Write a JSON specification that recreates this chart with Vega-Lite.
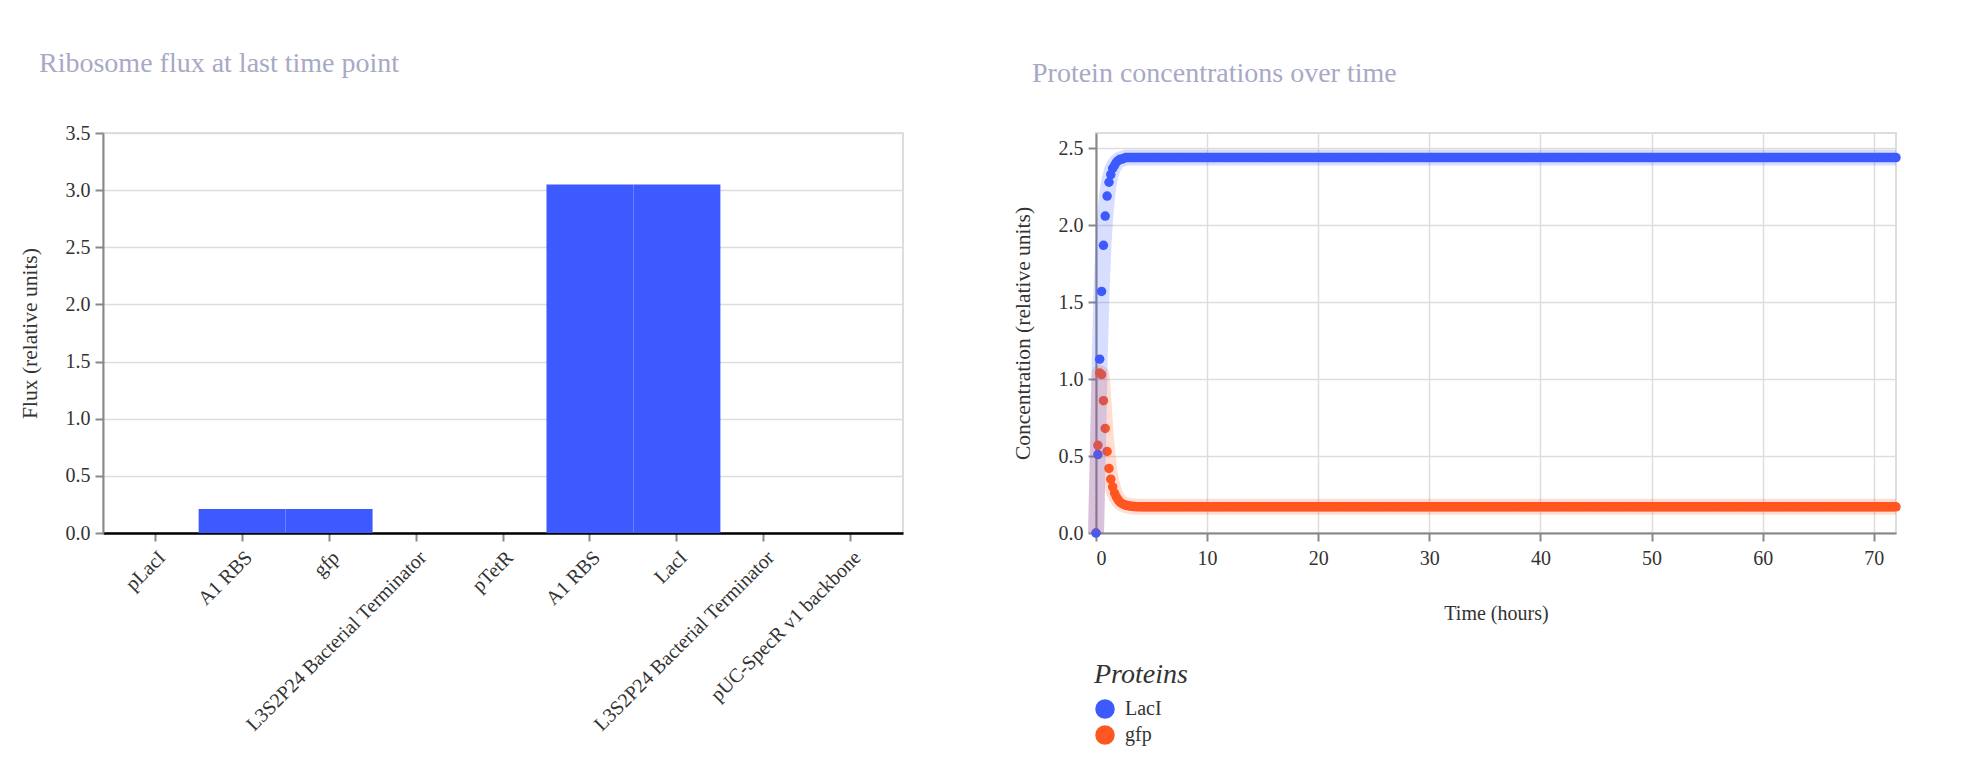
{
"$schema": "https://vega.github.io/schema/vega-lite/v6.json",
"padding": {"left": 18, "top": 49, "right": 5, "bottom": 5},
"spacing": 193,
"bounds": "flush",
"config": {
  "font": "Liberation Serif",
  "view": {"stroke": "#dddddd", "strokeWidth": 2},
  "axis": {"labelFontSize": 20, "titleFontSize": 20, "titleFontWeight": "normal", "labelColor": "#333333", "titleColor": "#333333", "domainColor": "#888888", "domainWidth": 2, "tickColor": "#888888", "tickWidth": 2, "tickSize": 8, "gridColor": "#dddddd", "gridWidth": 1.5, "labelPadding": 5, "titlePadding": 24, "labelLimit": 500},
  "axisY": {"titleFontSize": 21.5},
  "title": {"fontSize": 28, "fontWeight": "normal", "color": "#a7a9c6", "anchor": "start", "frame": "bounds", "dx": 20, "offset": 45}
},
"datasets": {
"gfp": [{"t":0,"c":0},{"t":0.17,"c":0.57},{"t":0.33,"c":1.04},{"t":0.5,"c":1.03},{"t":0.67,"c":0.86},{"t":0.83,"c":0.68},{"t":1,"c":0.53},{"t":1.17,"c":0.42},{"t":1.33,"c":0.35},{"t":1.5,"c":0.3},{"t":1.67,"c":0.26},{"t":1.83,"c":0.235},{"t":2,"c":0.215},{"t":2.17,"c":0.2},{"t":2.33,"c":0.192},{"t":2.5,"c":0.186},{"t":2.67,"c":0.181},{"t":2.83,"c":0.178},{"t":3,"c":0.176},{"t":3.17,"c":0.174},{"t":3.33,"c":0.173},{"t":3.5,"c":0.172},{"t":3.67,"c":0.171},{"t":3.83,"c":0.171},
{"t":4,"c":0.17},{"t":4.17,"c":0.17},{"t":4.33,"c":0.17},{"t":4.5,"c":0.17},{"t":4.67,"c":0.17},{"t":4.83,"c":0.17},
{"t":5,"c":0.17},{"t":5.17,"c":0.17},{"t":5.33,"c":0.17},{"t":5.5,"c":0.17},{"t":5.67,"c":0.17},{"t":5.83,"c":0.17},
{"t":6,"c":0.17},{"t":6.17,"c":0.17},{"t":6.33,"c":0.17},{"t":6.5,"c":0.17},{"t":6.67,"c":0.17},{"t":6.83,"c":0.17},
{"t":7,"c":0.17},{"t":7.17,"c":0.17},{"t":7.33,"c":0.17},{"t":7.5,"c":0.17},{"t":7.67,"c":0.17},{"t":7.83,"c":0.17},
{"t":8,"c":0.17},{"t":8.17,"c":0.17},{"t":8.33,"c":0.17},{"t":8.5,"c":0.17},{"t":8.67,"c":0.17},{"t":8.83,"c":0.17},
{"t":9,"c":0.17},{"t":9.17,"c":0.17},{"t":9.33,"c":0.17},{"t":9.5,"c":0.17},{"t":9.67,"c":0.17},{"t":9.83,"c":0.17},
{"t":10,"c":0.17},{"t":10.17,"c":0.17},{"t":10.33,"c":0.17},{"t":10.5,"c":0.17},{"t":10.67,"c":0.17},{"t":10.83,"c":0.17},
{"t":11,"c":0.17},{"t":11.17,"c":0.17},{"t":11.33,"c":0.17},{"t":11.5,"c":0.17},{"t":11.67,"c":0.17},{"t":11.83,"c":0.17},
{"t":12,"c":0.17},{"t":12.17,"c":0.17},{"t":12.33,"c":0.17},{"t":12.5,"c":0.17},{"t":12.67,"c":0.17},{"t":12.83,"c":0.17},
{"t":13,"c":0.17},{"t":13.17,"c":0.17},{"t":13.33,"c":0.17},{"t":13.5,"c":0.17},{"t":13.67,"c":0.17},{"t":13.83,"c":0.17},
{"t":14,"c":0.17},{"t":14.17,"c":0.17},{"t":14.33,"c":0.17},{"t":14.5,"c":0.17},{"t":14.67,"c":0.17},{"t":14.83,"c":0.17},
{"t":15,"c":0.17},{"t":15.17,"c":0.17},{"t":15.33,"c":0.17},{"t":15.5,"c":0.17},{"t":15.67,"c":0.17},{"t":15.83,"c":0.17},
{"t":16,"c":0.17},{"t":16.17,"c":0.17},{"t":16.33,"c":0.17},{"t":16.5,"c":0.17},{"t":16.67,"c":0.17},{"t":16.83,"c":0.17},
{"t":17,"c":0.17},{"t":17.17,"c":0.17},{"t":17.33,"c":0.17},{"t":17.5,"c":0.17},{"t":17.67,"c":0.17},{"t":17.83,"c":0.17},
{"t":18,"c":0.17},{"t":18.17,"c":0.17},{"t":18.33,"c":0.17},{"t":18.5,"c":0.17},{"t":18.67,"c":0.17},{"t":18.83,"c":0.17},
{"t":19,"c":0.17},{"t":19.17,"c":0.17},{"t":19.33,"c":0.17},{"t":19.5,"c":0.17},{"t":19.67,"c":0.17},{"t":19.83,"c":0.17},
{"t":20,"c":0.17},{"t":20.17,"c":0.17},{"t":20.33,"c":0.17},{"t":20.5,"c":0.17},{"t":20.67,"c":0.17},{"t":20.83,"c":0.17},
{"t":21,"c":0.17},{"t":21.17,"c":0.17},{"t":21.33,"c":0.17},{"t":21.5,"c":0.17},{"t":21.67,"c":0.17},{"t":21.83,"c":0.17},
{"t":22,"c":0.17},{"t":22.17,"c":0.17},{"t":22.33,"c":0.17},{"t":22.5,"c":0.17},{"t":22.67,"c":0.17},{"t":22.83,"c":0.17},
{"t":23,"c":0.17},{"t":23.17,"c":0.17},{"t":23.33,"c":0.17},{"t":23.5,"c":0.17},{"t":23.67,"c":0.17},{"t":23.83,"c":0.17},
{"t":24,"c":0.17},{"t":24.17,"c":0.17},{"t":24.33,"c":0.17},{"t":24.5,"c":0.17},{"t":24.67,"c":0.17},{"t":24.83,"c":0.17},
{"t":25,"c":0.17},{"t":25.17,"c":0.17},{"t":25.33,"c":0.17},{"t":25.5,"c":0.17},{"t":25.67,"c":0.17},{"t":25.83,"c":0.17},
{"t":26,"c":0.17},{"t":26.17,"c":0.17},{"t":26.33,"c":0.17},{"t":26.5,"c":0.17},{"t":26.67,"c":0.17},{"t":26.83,"c":0.17},
{"t":27,"c":0.17},{"t":27.17,"c":0.17},{"t":27.33,"c":0.17},{"t":27.5,"c":0.17},{"t":27.67,"c":0.17},{"t":27.83,"c":0.17},
{"t":28,"c":0.17},{"t":28.17,"c":0.17},{"t":28.33,"c":0.17},{"t":28.5,"c":0.17},{"t":28.67,"c":0.17},{"t":28.83,"c":0.17},
{"t":29,"c":0.17},{"t":29.17,"c":0.17},{"t":29.33,"c":0.17},{"t":29.5,"c":0.17},{"t":29.67,"c":0.17},{"t":29.83,"c":0.17},
{"t":30,"c":0.17},{"t":30.17,"c":0.17},{"t":30.33,"c":0.17},{"t":30.5,"c":0.17},{"t":30.67,"c":0.17},{"t":30.83,"c":0.17},
{"t":31,"c":0.17},{"t":31.17,"c":0.17},{"t":31.33,"c":0.17},{"t":31.5,"c":0.17},{"t":31.67,"c":0.17},{"t":31.83,"c":0.17},
{"t":32,"c":0.17},{"t":32.17,"c":0.17},{"t":32.33,"c":0.17},{"t":32.5,"c":0.17},{"t":32.67,"c":0.17},{"t":32.83,"c":0.17},
{"t":33,"c":0.17},{"t":33.17,"c":0.17},{"t":33.33,"c":0.17},{"t":33.5,"c":0.17},{"t":33.67,"c":0.17},{"t":33.83,"c":0.17},
{"t":34,"c":0.17},{"t":34.17,"c":0.17},{"t":34.33,"c":0.17},{"t":34.5,"c":0.17},{"t":34.67,"c":0.17},{"t":34.83,"c":0.17},
{"t":35,"c":0.17},{"t":35.17,"c":0.17},{"t":35.33,"c":0.17},{"t":35.5,"c":0.17},{"t":35.67,"c":0.17},{"t":35.83,"c":0.17},
{"t":36,"c":0.17},{"t":36.17,"c":0.17},{"t":36.33,"c":0.17},{"t":36.5,"c":0.17},{"t":36.67,"c":0.17},{"t":36.83,"c":0.17},
{"t":37,"c":0.17},{"t":37.17,"c":0.17},{"t":37.33,"c":0.17},{"t":37.5,"c":0.17},{"t":37.67,"c":0.17},{"t":37.83,"c":0.17},
{"t":38,"c":0.17},{"t":38.17,"c":0.17},{"t":38.33,"c":0.17},{"t":38.5,"c":0.17},{"t":38.67,"c":0.17},{"t":38.83,"c":0.17},
{"t":39,"c":0.17},{"t":39.17,"c":0.17},{"t":39.33,"c":0.17},{"t":39.5,"c":0.17},{"t":39.67,"c":0.17},{"t":39.83,"c":0.17},
{"t":40,"c":0.17},{"t":40.17,"c":0.17},{"t":40.33,"c":0.17},{"t":40.5,"c":0.17},{"t":40.67,"c":0.17},{"t":40.83,"c":0.17},
{"t":41,"c":0.17},{"t":41.17,"c":0.17},{"t":41.33,"c":0.17},{"t":41.5,"c":0.17},{"t":41.67,"c":0.17},{"t":41.83,"c":0.17},
{"t":42,"c":0.17},{"t":42.17,"c":0.17},{"t":42.33,"c":0.17},{"t":42.5,"c":0.17},{"t":42.67,"c":0.17},{"t":42.83,"c":0.17},
{"t":43,"c":0.17},{"t":43.17,"c":0.17},{"t":43.33,"c":0.17},{"t":43.5,"c":0.17},{"t":43.67,"c":0.17},{"t":43.83,"c":0.17},
{"t":44,"c":0.17},{"t":44.17,"c":0.17},{"t":44.33,"c":0.17},{"t":44.5,"c":0.17},{"t":44.67,"c":0.17},{"t":44.83,"c":0.17},
{"t":45,"c":0.17},{"t":45.17,"c":0.17},{"t":45.33,"c":0.17},{"t":45.5,"c":0.17},{"t":45.67,"c":0.17},{"t":45.83,"c":0.17},
{"t":46,"c":0.17},{"t":46.17,"c":0.17},{"t":46.33,"c":0.17},{"t":46.5,"c":0.17},{"t":46.67,"c":0.17},{"t":46.83,"c":0.17},
{"t":47,"c":0.17},{"t":47.17,"c":0.17},{"t":47.33,"c":0.17},{"t":47.5,"c":0.17},{"t":47.67,"c":0.17},{"t":47.83,"c":0.17},
{"t":48,"c":0.17},{"t":48.17,"c":0.17},{"t":48.33,"c":0.17},{"t":48.5,"c":0.17},{"t":48.67,"c":0.17},{"t":48.83,"c":0.17},
{"t":49,"c":0.17},{"t":49.17,"c":0.17},{"t":49.33,"c":0.17},{"t":49.5,"c":0.17},{"t":49.67,"c":0.17},{"t":49.83,"c":0.17},
{"t":50,"c":0.17},{"t":50.17,"c":0.17},{"t":50.33,"c":0.17},{"t":50.5,"c":0.17},{"t":50.67,"c":0.17},{"t":50.83,"c":0.17},
{"t":51,"c":0.17},{"t":51.17,"c":0.17},{"t":51.33,"c":0.17},{"t":51.5,"c":0.17},{"t":51.67,"c":0.17},{"t":51.83,"c":0.17},
{"t":52,"c":0.17},{"t":52.17,"c":0.17},{"t":52.33,"c":0.17},{"t":52.5,"c":0.17},{"t":52.67,"c":0.17},{"t":52.83,"c":0.17},
{"t":53,"c":0.17},{"t":53.17,"c":0.17},{"t":53.33,"c":0.17},{"t":53.5,"c":0.17},{"t":53.67,"c":0.17},{"t":53.83,"c":0.17},
{"t":54,"c":0.17},{"t":54.17,"c":0.17},{"t":54.33,"c":0.17},{"t":54.5,"c":0.17},{"t":54.67,"c":0.17},{"t":54.83,"c":0.17},
{"t":55,"c":0.17},{"t":55.17,"c":0.17},{"t":55.33,"c":0.17},{"t":55.5,"c":0.17},{"t":55.67,"c":0.17},{"t":55.83,"c":0.17},
{"t":56,"c":0.17},{"t":56.17,"c":0.17},{"t":56.33,"c":0.17},{"t":56.5,"c":0.17},{"t":56.67,"c":0.17},{"t":56.83,"c":0.17},
{"t":57,"c":0.17},{"t":57.17,"c":0.17},{"t":57.33,"c":0.17},{"t":57.5,"c":0.17},{"t":57.67,"c":0.17},{"t":57.83,"c":0.17},
{"t":58,"c":0.17},{"t":58.17,"c":0.17},{"t":58.33,"c":0.17},{"t":58.5,"c":0.17},{"t":58.67,"c":0.17},{"t":58.83,"c":0.17},
{"t":59,"c":0.17},{"t":59.17,"c":0.17},{"t":59.33,"c":0.17},{"t":59.5,"c":0.17},{"t":59.67,"c":0.17},{"t":59.83,"c":0.17},
{"t":60,"c":0.17},{"t":60.17,"c":0.17},{"t":60.33,"c":0.17},{"t":60.5,"c":0.17},{"t":60.67,"c":0.17},{"t":60.83,"c":0.17},
{"t":61,"c":0.17},{"t":61.17,"c":0.17},{"t":61.33,"c":0.17},{"t":61.5,"c":0.17},{"t":61.67,"c":0.17},{"t":61.83,"c":0.17},
{"t":62,"c":0.17},{"t":62.17,"c":0.17},{"t":62.33,"c":0.17},{"t":62.5,"c":0.17},{"t":62.67,"c":0.17},{"t":62.83,"c":0.17},
{"t":63,"c":0.17},{"t":63.17,"c":0.17},{"t":63.33,"c":0.17},{"t":63.5,"c":0.17},{"t":63.67,"c":0.17},{"t":63.83,"c":0.17},
{"t":64,"c":0.17},{"t":64.17,"c":0.17},{"t":64.33,"c":0.17},{"t":64.5,"c":0.17},{"t":64.67,"c":0.17},{"t":64.83,"c":0.17},
{"t":65,"c":0.17},{"t":65.17,"c":0.17},{"t":65.33,"c":0.17},{"t":65.5,"c":0.17},{"t":65.67,"c":0.17},{"t":65.83,"c":0.17},
{"t":66,"c":0.17},{"t":66.17,"c":0.17},{"t":66.33,"c":0.17},{"t":66.5,"c":0.17},{"t":66.67,"c":0.17},{"t":66.83,"c":0.17},
{"t":67,"c":0.17},{"t":67.17,"c":0.17},{"t":67.33,"c":0.17},{"t":67.5,"c":0.17},{"t":67.67,"c":0.17},{"t":67.83,"c":0.17},
{"t":68,"c":0.17},{"t":68.17,"c":0.17},{"t":68.33,"c":0.17},{"t":68.5,"c":0.17},{"t":68.67,"c":0.17},{"t":68.83,"c":0.17},
{"t":69,"c":0.17},{"t":69.17,"c":0.17},{"t":69.33,"c":0.17},{"t":69.5,"c":0.17},{"t":69.67,"c":0.17},{"t":69.83,"c":0.17},
{"t":70,"c":0.17},{"t":70.17,"c":0.17},{"t":70.33,"c":0.17},{"t":70.5,"c":0.17},{"t":70.67,"c":0.17},{"t":70.83,"c":0.17},
{"t":71,"c":0.17},{"t":71.17,"c":0.17},{"t":71.33,"c":0.17},{"t":71.5,"c":0.17},{"t":71.67,"c":0.17},{"t":71.83,"c":0.17},
{"t":72,"c":0.17}],
"lac": [{"t":0,"c":0},{"t":0.17,"c":0.51},{"t":0.33,"c":1.13},{"t":0.5,"c":1.57},{"t":0.67,"c":1.87},{"t":0.83,"c":2.06},{"t":1,"c":2.19},{"t":1.17,"c":2.28},{"t":1.33,"c":2.33},{"t":1.5,"c":2.37},{"t":1.67,"c":2.39},{"t":1.83,"c":2.41},{"t":2,"c":2.42},{"t":2.17,"c":2.43},{"t":2.33,"c":2.43},{"t":2.5,"c":2.435},{"t":2.67,"c":2.44},{"t":2.83,"c":2.44},
{"t":3,"c":2.44},{"t":3.17,"c":2.44},{"t":3.33,"c":2.44},{"t":3.5,"c":2.44},{"t":3.67,"c":2.44},{"t":3.83,"c":2.44},
{"t":4,"c":2.44},{"t":4.17,"c":2.44},{"t":4.33,"c":2.44},{"t":4.5,"c":2.44},{"t":4.67,"c":2.44},{"t":4.83,"c":2.44},
{"t":5,"c":2.44},{"t":5.17,"c":2.44},{"t":5.33,"c":2.44},{"t":5.5,"c":2.44},{"t":5.67,"c":2.44},{"t":5.83,"c":2.44},
{"t":6,"c":2.44},{"t":6.17,"c":2.44},{"t":6.33,"c":2.44},{"t":6.5,"c":2.44},{"t":6.67,"c":2.44},{"t":6.83,"c":2.44},
{"t":7,"c":2.44},{"t":7.17,"c":2.44},{"t":7.33,"c":2.44},{"t":7.5,"c":2.44},{"t":7.67,"c":2.44},{"t":7.83,"c":2.44},
{"t":8,"c":2.44},{"t":8.17,"c":2.44},{"t":8.33,"c":2.44},{"t":8.5,"c":2.44},{"t":8.67,"c":2.44},{"t":8.83,"c":2.44},
{"t":9,"c":2.44},{"t":9.17,"c":2.44},{"t":9.33,"c":2.44},{"t":9.5,"c":2.44},{"t":9.67,"c":2.44},{"t":9.83,"c":2.44},
{"t":10,"c":2.44},{"t":10.17,"c":2.44},{"t":10.33,"c":2.44},{"t":10.5,"c":2.44},{"t":10.67,"c":2.44},{"t":10.83,"c":2.44},
{"t":11,"c":2.44},{"t":11.17,"c":2.44},{"t":11.33,"c":2.44},{"t":11.5,"c":2.44},{"t":11.67,"c":2.44},{"t":11.83,"c":2.44},
{"t":12,"c":2.44},{"t":12.17,"c":2.44},{"t":12.33,"c":2.44},{"t":12.5,"c":2.44},{"t":12.67,"c":2.44},{"t":12.83,"c":2.44},
{"t":13,"c":2.44},{"t":13.17,"c":2.44},{"t":13.33,"c":2.44},{"t":13.5,"c":2.44},{"t":13.67,"c":2.44},{"t":13.83,"c":2.44},
{"t":14,"c":2.44},{"t":14.17,"c":2.44},{"t":14.33,"c":2.44},{"t":14.5,"c":2.44},{"t":14.67,"c":2.44},{"t":14.83,"c":2.44},
{"t":15,"c":2.44},{"t":15.17,"c":2.44},{"t":15.33,"c":2.44},{"t":15.5,"c":2.44},{"t":15.67,"c":2.44},{"t":15.83,"c":2.44},
{"t":16,"c":2.44},{"t":16.17,"c":2.44},{"t":16.33,"c":2.44},{"t":16.5,"c":2.44},{"t":16.67,"c":2.44},{"t":16.83,"c":2.44},
{"t":17,"c":2.44},{"t":17.17,"c":2.44},{"t":17.33,"c":2.44},{"t":17.5,"c":2.44},{"t":17.67,"c":2.44},{"t":17.83,"c":2.44},
{"t":18,"c":2.44},{"t":18.17,"c":2.44},{"t":18.33,"c":2.44},{"t":18.5,"c":2.44},{"t":18.67,"c":2.44},{"t":18.83,"c":2.44},
{"t":19,"c":2.44},{"t":19.17,"c":2.44},{"t":19.33,"c":2.44},{"t":19.5,"c":2.44},{"t":19.67,"c":2.44},{"t":19.83,"c":2.44},
{"t":20,"c":2.44},{"t":20.17,"c":2.44},{"t":20.33,"c":2.44},{"t":20.5,"c":2.44},{"t":20.67,"c":2.44},{"t":20.83,"c":2.44},
{"t":21,"c":2.44},{"t":21.17,"c":2.44},{"t":21.33,"c":2.44},{"t":21.5,"c":2.44},{"t":21.67,"c":2.44},{"t":21.83,"c":2.44},
{"t":22,"c":2.44},{"t":22.17,"c":2.44},{"t":22.33,"c":2.44},{"t":22.5,"c":2.44},{"t":22.67,"c":2.44},{"t":22.83,"c":2.44},
{"t":23,"c":2.44},{"t":23.17,"c":2.44},{"t":23.33,"c":2.44},{"t":23.5,"c":2.44},{"t":23.67,"c":2.44},{"t":23.83,"c":2.44},
{"t":24,"c":2.44},{"t":24.17,"c":2.44},{"t":24.33,"c":2.44},{"t":24.5,"c":2.44},{"t":24.67,"c":2.44},{"t":24.83,"c":2.44},
{"t":25,"c":2.44},{"t":25.17,"c":2.44},{"t":25.33,"c":2.44},{"t":25.5,"c":2.44},{"t":25.67,"c":2.44},{"t":25.83,"c":2.44},
{"t":26,"c":2.44},{"t":26.17,"c":2.44},{"t":26.33,"c":2.44},{"t":26.5,"c":2.44},{"t":26.67,"c":2.44},{"t":26.83,"c":2.44},
{"t":27,"c":2.44},{"t":27.17,"c":2.44},{"t":27.33,"c":2.44},{"t":27.5,"c":2.44},{"t":27.67,"c":2.44},{"t":27.83,"c":2.44},
{"t":28,"c":2.44},{"t":28.17,"c":2.44},{"t":28.33,"c":2.44},{"t":28.5,"c":2.44},{"t":28.67,"c":2.44},{"t":28.83,"c":2.44},
{"t":29,"c":2.44},{"t":29.17,"c":2.44},{"t":29.33,"c":2.44},{"t":29.5,"c":2.44},{"t":29.67,"c":2.44},{"t":29.83,"c":2.44},
{"t":30,"c":2.44},{"t":30.17,"c":2.44},{"t":30.33,"c":2.44},{"t":30.5,"c":2.44},{"t":30.67,"c":2.44},{"t":30.83,"c":2.44},
{"t":31,"c":2.44},{"t":31.17,"c":2.44},{"t":31.33,"c":2.44},{"t":31.5,"c":2.44},{"t":31.67,"c":2.44},{"t":31.83,"c":2.44},
{"t":32,"c":2.44},{"t":32.17,"c":2.44},{"t":32.33,"c":2.44},{"t":32.5,"c":2.44},{"t":32.67,"c":2.44},{"t":32.83,"c":2.44},
{"t":33,"c":2.44},{"t":33.17,"c":2.44},{"t":33.33,"c":2.44},{"t":33.5,"c":2.44},{"t":33.67,"c":2.44},{"t":33.83,"c":2.44},
{"t":34,"c":2.44},{"t":34.17,"c":2.44},{"t":34.33,"c":2.44},{"t":34.5,"c":2.44},{"t":34.67,"c":2.44},{"t":34.83,"c":2.44},
{"t":35,"c":2.44},{"t":35.17,"c":2.44},{"t":35.33,"c":2.44},{"t":35.5,"c":2.44},{"t":35.67,"c":2.44},{"t":35.83,"c":2.44},
{"t":36,"c":2.44},{"t":36.17,"c":2.44},{"t":36.33,"c":2.44},{"t":36.5,"c":2.44},{"t":36.67,"c":2.44},{"t":36.83,"c":2.44},
{"t":37,"c":2.44},{"t":37.17,"c":2.44},{"t":37.33,"c":2.44},{"t":37.5,"c":2.44},{"t":37.67,"c":2.44},{"t":37.83,"c":2.44},
{"t":38,"c":2.44},{"t":38.17,"c":2.44},{"t":38.33,"c":2.44},{"t":38.5,"c":2.44},{"t":38.67,"c":2.44},{"t":38.83,"c":2.44},
{"t":39,"c":2.44},{"t":39.17,"c":2.44},{"t":39.33,"c":2.44},{"t":39.5,"c":2.44},{"t":39.67,"c":2.44},{"t":39.83,"c":2.44},
{"t":40,"c":2.44},{"t":40.17,"c":2.44},{"t":40.33,"c":2.44},{"t":40.5,"c":2.44},{"t":40.67,"c":2.44},{"t":40.83,"c":2.44},
{"t":41,"c":2.44},{"t":41.17,"c":2.44},{"t":41.33,"c":2.44},{"t":41.5,"c":2.44},{"t":41.67,"c":2.44},{"t":41.83,"c":2.44},
{"t":42,"c":2.44},{"t":42.17,"c":2.44},{"t":42.33,"c":2.44},{"t":42.5,"c":2.44},{"t":42.67,"c":2.44},{"t":42.83,"c":2.44},
{"t":43,"c":2.44},{"t":43.17,"c":2.44},{"t":43.33,"c":2.44},{"t":43.5,"c":2.44},{"t":43.67,"c":2.44},{"t":43.83,"c":2.44},
{"t":44,"c":2.44},{"t":44.17,"c":2.44},{"t":44.33,"c":2.44},{"t":44.5,"c":2.44},{"t":44.67,"c":2.44},{"t":44.83,"c":2.44},
{"t":45,"c":2.44},{"t":45.17,"c":2.44},{"t":45.33,"c":2.44},{"t":45.5,"c":2.44},{"t":45.67,"c":2.44},{"t":45.83,"c":2.44},
{"t":46,"c":2.44},{"t":46.17,"c":2.44},{"t":46.33,"c":2.44},{"t":46.5,"c":2.44},{"t":46.67,"c":2.44},{"t":46.83,"c":2.44},
{"t":47,"c":2.44},{"t":47.17,"c":2.44},{"t":47.33,"c":2.44},{"t":47.5,"c":2.44},{"t":47.67,"c":2.44},{"t":47.83,"c":2.44},
{"t":48,"c":2.44},{"t":48.17,"c":2.44},{"t":48.33,"c":2.44},{"t":48.5,"c":2.44},{"t":48.67,"c":2.44},{"t":48.83,"c":2.44},
{"t":49,"c":2.44},{"t":49.17,"c":2.44},{"t":49.33,"c":2.44},{"t":49.5,"c":2.44},{"t":49.67,"c":2.44},{"t":49.83,"c":2.44},
{"t":50,"c":2.44},{"t":50.17,"c":2.44},{"t":50.33,"c":2.44},{"t":50.5,"c":2.44},{"t":50.67,"c":2.44},{"t":50.83,"c":2.44},
{"t":51,"c":2.44},{"t":51.17,"c":2.44},{"t":51.33,"c":2.44},{"t":51.5,"c":2.44},{"t":51.67,"c":2.44},{"t":51.83,"c":2.44},
{"t":52,"c":2.44},{"t":52.17,"c":2.44},{"t":52.33,"c":2.44},{"t":52.5,"c":2.44},{"t":52.67,"c":2.44},{"t":52.83,"c":2.44},
{"t":53,"c":2.44},{"t":53.17,"c":2.44},{"t":53.33,"c":2.44},{"t":53.5,"c":2.44},{"t":53.67,"c":2.44},{"t":53.83,"c":2.44},
{"t":54,"c":2.44},{"t":54.17,"c":2.44},{"t":54.33,"c":2.44},{"t":54.5,"c":2.44},{"t":54.67,"c":2.44},{"t":54.83,"c":2.44},
{"t":55,"c":2.44},{"t":55.17,"c":2.44},{"t":55.33,"c":2.44},{"t":55.5,"c":2.44},{"t":55.67,"c":2.44},{"t":55.83,"c":2.44},
{"t":56,"c":2.44},{"t":56.17,"c":2.44},{"t":56.33,"c":2.44},{"t":56.5,"c":2.44},{"t":56.67,"c":2.44},{"t":56.83,"c":2.44},
{"t":57,"c":2.44},{"t":57.17,"c":2.44},{"t":57.33,"c":2.44},{"t":57.5,"c":2.44},{"t":57.67,"c":2.44},{"t":57.83,"c":2.44},
{"t":58,"c":2.44},{"t":58.17,"c":2.44},{"t":58.33,"c":2.44},{"t":58.5,"c":2.44},{"t":58.67,"c":2.44},{"t":58.83,"c":2.44},
{"t":59,"c":2.44},{"t":59.17,"c":2.44},{"t":59.33,"c":2.44},{"t":59.5,"c":2.44},{"t":59.67,"c":2.44},{"t":59.83,"c":2.44},
{"t":60,"c":2.44},{"t":60.17,"c":2.44},{"t":60.33,"c":2.44},{"t":60.5,"c":2.44},{"t":60.67,"c":2.44},{"t":60.83,"c":2.44},
{"t":61,"c":2.44},{"t":61.17,"c":2.44},{"t":61.33,"c":2.44},{"t":61.5,"c":2.44},{"t":61.67,"c":2.44},{"t":61.83,"c":2.44},
{"t":62,"c":2.44},{"t":62.17,"c":2.44},{"t":62.33,"c":2.44},{"t":62.5,"c":2.44},{"t":62.67,"c":2.44},{"t":62.83,"c":2.44},
{"t":63,"c":2.44},{"t":63.17,"c":2.44},{"t":63.33,"c":2.44},{"t":63.5,"c":2.44},{"t":63.67,"c":2.44},{"t":63.83,"c":2.44},
{"t":64,"c":2.44},{"t":64.17,"c":2.44},{"t":64.33,"c":2.44},{"t":64.5,"c":2.44},{"t":64.67,"c":2.44},{"t":64.83,"c":2.44},
{"t":65,"c":2.44},{"t":65.17,"c":2.44},{"t":65.33,"c":2.44},{"t":65.5,"c":2.44},{"t":65.67,"c":2.44},{"t":65.83,"c":2.44},
{"t":66,"c":2.44},{"t":66.17,"c":2.44},{"t":66.33,"c":2.44},{"t":66.5,"c":2.44},{"t":66.67,"c":2.44},{"t":66.83,"c":2.44},
{"t":67,"c":2.44},{"t":67.17,"c":2.44},{"t":67.33,"c":2.44},{"t":67.5,"c":2.44},{"t":67.67,"c":2.44},{"t":67.83,"c":2.44},
{"t":68,"c":2.44},{"t":68.17,"c":2.44},{"t":68.33,"c":2.44},{"t":68.5,"c":2.44},{"t":68.67,"c":2.44},{"t":68.83,"c":2.44},
{"t":69,"c":2.44},{"t":69.17,"c":2.44},{"t":69.33,"c":2.44},{"t":69.5,"c":2.44},{"t":69.67,"c":2.44},{"t":69.83,"c":2.44},
{"t":70,"c":2.44},{"t":70.17,"c":2.44},{"t":70.33,"c":2.44},{"t":70.5,"c":2.44},{"t":70.67,"c":2.44},{"t":70.83,"c":2.44},
{"t":71,"c":2.44},{"t":71.17,"c":2.44},{"t":71.33,"c":2.44},{"t":71.5,"c":2.44},{"t":71.67,"c":2.44},{"t":71.83,"c":2.44},
{"t":72,"c":2.44}]
},
"hconcat": [
{
  "width": 800, "height": 400,
  "title": {"text": "Ribosome flux at last time point"},
  "data": {"values": [
    {"i":0,"part":"pLacI","flux":0},
    {"i":1,"part":"A1 RBS","flux":0.21},
    {"i":2,"part":"gfp","flux":0.21},
    {"i":3,"part":"L3S2P24 Bacterial Terminator","flux":0},
    {"i":4,"part":"pTetR","flux":0},
    {"i":5,"part":"A1 RBS","flux":3.05},
    {"i":6,"part":"LacI","flux":3.05},
    {"i":7,"part":"L3S2P24 Bacterial Terminator","flux":0},
    {"i":8,"part":"pUC-SpecR v1 backbone","flux":0}
  ]},
  "mark": {"type": "bar", "color": "#3D5AFE"},
  "encoding": {
    "x": {"field": "i", "type": "ordinal", "scale": {"paddingInner": 0, "paddingOuter": 0.1},
      "axis": {"title": null, "labelAngle": -45, "grid": false, "domainColor": "#000000", "domainWidth": 2.5, "labelPadding": 6,
        "labelExpr": "['pLacI','A1 RBS','gfp','L3S2P24 Bacterial Terminator','pTetR','A1 RBS','LacI','L3S2P24 Bacterial Terminator','pUC-SpecR v1 backbone'][datum.value]"}},
    "y": {"field": "flux", "type": "quantitative", "scale": {"domain": [0, 3.5]},
      "axis": {"title": "Flux (relative units)", "format": ".1f", "values": [0, 0.5, 1, 1.5, 2, 2.5, 3, 3.5]}}
  }
},
{
  "width": 800, "height": 400,
  "title": {"text": "Protein concentrations over time"},
  "encoding": {
    "x": {"field": "t", "type": "quantitative", "scale": {"domain": [0, 72], "nice": false},
      "axis": {"title": "Time (hours)", "values": [0, 10, 20, 30, 40, 50, 60, 70], "labelPadding": 7, "titlePadding": 35}},
    "y": {"field": "c", "type": "quantitative", "scale": {"domain": [0, 2.6], "nice": false},
      "axis": {"title": "Concentration (relative units)", "format": ".1f", "values": [0, 0.5, 1, 1.5, 2, 2.5]}}
  },
  "layer": [
    {"data": {"name": "gfp"}, "mark": {"type": "point", "filled": true, "size": 90, "opacity": 1},
      "encoding": {"color": {"datum": "gfp", "type": "nominal",
        "scale": {"domain": ["LacI", "gfp"], "range": ["#3D5AFE", "#FF5722"]},
        "legend": {"title": "Proteins", "orient": "none", "legendX": 991, "legendY": 528, "direction": "vertical",
          "titleFontSize": 28, "titleFontStyle": "italic", "titleFontWeight": "normal", "titleColor": "#333333", "titlePadding": 10,
          "labelFontSize": 20, "labelColor": "#333333", "labelOffset": 10, "rowPadding": 6,
          "symbolType": "circle", "symbolSize": 380, "symbolOpacity": 1, "symbolStrokeWidth": 0, "symbolOffset": 1}}}},
    {"data": {"name": "lac"}, "mark": {"type": "point", "filled": true, "size": 90, "opacity": 1},
      "encoding": {"color": {"datum": "LacI", "type": "nominal"}}},
    {"data": {"name": "gfp"}, "mark": {"type": "line", "strokeWidth": 16, "opacity": 0.2, "strokeJoin": "round"},
      "encoding": {"color": {"datum": "gfp", "type": "nominal", "legend": null}}},
    {"data": {"name": "lac"}, "mark": {"type": "line", "strokeWidth": 16, "opacity": 0.2, "strokeJoin": "round"},
      "encoding": {"color": {"datum": "LacI", "type": "nominal", "legend": null}}}
  ]
}
]
}
